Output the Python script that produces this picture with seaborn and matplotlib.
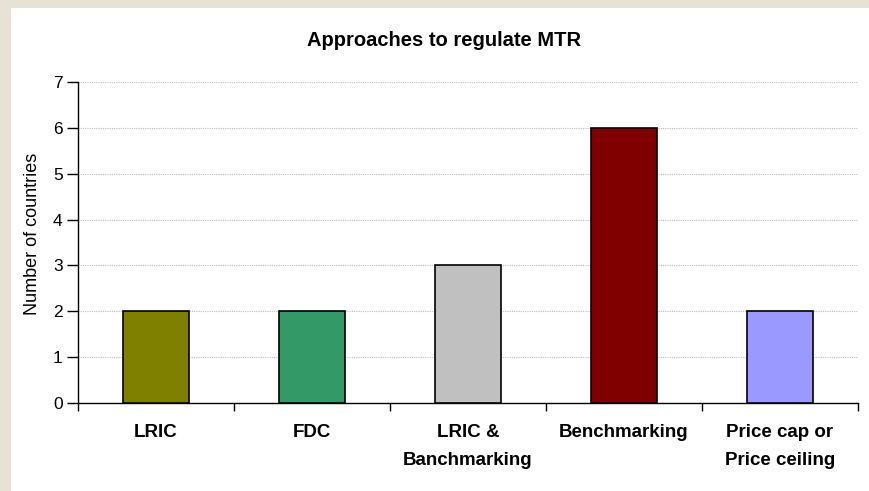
import matplotlib
matplotlib.use("Agg")
import matplotlib.pyplot as plt
from matplotlib.patches import Rectangle
import seaborn as sns
import pandas as pd

categories = ["LRIC", "FDC", "LRIC &\nBanchmarking", "Benchmarking", "Price cap or\nPrice ceiling"]
countries = [2, 2, 3, 6, 2]
colors = ["#808000", "#339966", "#C0C0C0", "#800000", "#9999FF"]
y_ticks = [0, 1, 2, 3, 4, 5, 6, 7]

sns.set_style("white")
plt.rcParams["font.family"] = ["Liberation Sans", "DejaVu Sans"]
plt.rcParams["text.color"] = "black"
plt.rcParams["axes.labelcolor"] = "black"
plt.rcParams["xtick.color"] = "black"
plt.rcParams["ytick.color"] = "black"

fig = plt.figure(figsize=(8.7, 4.91), dpi=100)
fig.patch.set_facecolor("#E6E3D6")
fig.patches.append(Rectangle((11 / 870, 0), 1, 1 - 8 / 491, transform=fig.transFigure,
                             facecolor="white", edgecolor="none", zorder=-10))

ax = fig.add_axes([78 / 870, 1 - 403 / 491, 780 / 870, 321 / 491])
ax.set_zorder(5)
ax.set_facecolor("none")

df = pd.DataFrame({"approach": categories, "count": countries})
sns.barplot(data=df, x="approach", y="count", hue="approach", palette=colors,
            saturation=1, legend=False, width=0.42, edgecolor="black",
            linewidth=1.2, ax=ax, zorder=3)

ax.set_ylim(0, 7)
ax.set_xlim(-0.5, len(categories) - 0.5)
ax.set_yticks(y_ticks)
ax.yaxis.grid(True, color="#BDBDBD", linestyle=(0, (1, 1)), linewidth=0.8, zorder=0)
ax.set_axisbelow(True)

for s in ["top", "right"]:
    ax.spines[s].set_visible(False)
ax.spines["left"].set_color("black")
ax.spines["bottom"].set_color("black")
ax.spines["left"].set_linewidth(1)
ax.spines["bottom"].set_linewidth(1)

ax.tick_params(axis="y", which="major", direction="out", length=8, width=1,
               color="black", labelsize=12.5, pad=3, left=True)
ax.set_xticks(range(len(categories)))
ax.set_xticklabels(categories, fontweight="bold", fontsize=13.5, linespacing=1.85)
ax.tick_params(axis="x", which="major", length=0, pad=15)
ax.set_xticks([i - 0.5 for i in range(len(categories) + 1)], minor=True)
ax.tick_params(axis="x", which="minor", direction="out", length=6, width=1,
               color="black", bottom=True)

ax.set_xlabel("")
ax.set_ylabel("Number of countries", fontsize=13)
ax.yaxis.set_label_coords(-0.047, 0.528)
fig.text(444 / 870, 1 - 40 / 491, "Approaches to regulate MTR", fontsize=14.5,
         fontweight="bold", ha="center", va="center")

fig.savefig("out.png", dpi=100, facecolor=fig.get_facecolor())
